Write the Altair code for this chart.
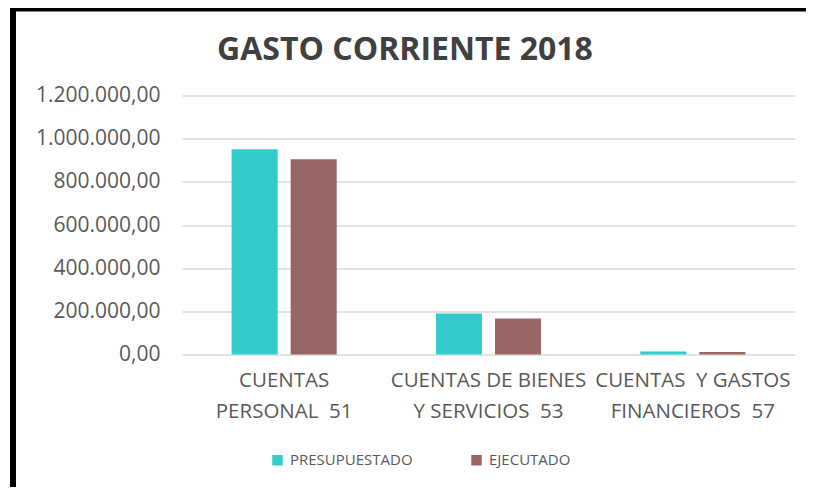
import altair as alt
import pandas as pd

categories = ["CUENTAS|PERSONAL\u00a0 51", "CUENTAS DE BIENES|Y SERVICIOS\u00a0 53", "CUENTAS\u00a0 Y GASTOS|FINANCIEROS\u00a0 57"]
series = ["PRESUPUESTADO", "EJECUTADO"]
presupuestado = [951000, 190000, 14000]
ejecutado = [905000, 167000, 12000]
y_ticks = [0, 200000, 400000, 600000, 800000, 1000000, 1200000]
colors = ["#33CCCC", "#996666"]
title_text = "GASTO CORRIENTE 2018"

rows = []
for c, p, e in zip(categories, presupuestado, ejecutado):
    rows.append({"cat": c, "serie": series[0], "valor": p})
    rows.append({"cat": c, "serie": series[1], "valor": e})
df = pd.DataFrame(rows)

W, H = 613, 259
FONT = "Open Sans"

bars = alt.Chart(df).mark_bar().encode(
    x=alt.X("cat:N", sort=categories, title=None,
            scale=alt.Scale(paddingInner=0, paddingOuter=0),
            axis=alt.Axis(labelExpr="split(datum.label, '|')", labelAngle=0,
                          labelFontSize=20.5, labelColor="#595959", labelFont=FONT,
                          labelLineHeight=31, labelPadding=16, domain=False, ticks=False,
                          labelBaseline="top", labelLimit=300)),
    xOffset=alt.XOffset("serie:N", sort=series,
                        scale=alt.Scale(paddingInner=0.22, paddingOuter=0.84)),
    y=alt.Y("valor:Q", title=None,
            scale=alt.Scale(domain=[0, 1200000], nice=False),
            axis=alt.Axis(values=y_ticks, format=",.2f", labelFontSize=21,
                          labelColor="#595959", labelFont=FONT, labelPadding=22,
                          domain=False, ticks=False, gridColor="#d9d9d9", gridWidth=1.5)),
    color=alt.Color("serie:N", sort=series,
                    scale=alt.Scale(domain=series, range=colors),
                    legend=alt.Legend(title=None, orient="none", legendX=88, legendY=357,
                                      direction="horizontal", symbolType="square",
                                      symbolSize=110, symbolStrokeWidth=0,
                                      labelFontSize=15, labelColor="#595959", labelFont=FONT,
                                      columnPadding=56, labelOffset=5)),
)

frame_df = pd.DataFrame({"t": [title_text]})
title = alt.Chart(frame_df).mark_text(
    font=FONT, fontSize=32, fontWeight="bold", color="#404040",
    align="center", baseline="middle").encode(
    text="t:N", x=alt.value(223), y=alt.value(-46))
top_border = alt.Chart(frame_df).mark_rule(color="black", strokeWidth=4).encode(
    x=alt.value(-172), x2=alt.value(W + 40), y=alt.value(-86))
left_border = alt.Chart(frame_df).mark_rule(color="black", strokeWidth=6).encode(
    x=alt.value(-169), y=alt.value(-90), y2=alt.value(H + 140))

chart = alt.layer(bars, title, top_border, left_border).properties(
    width=W, height=H,
    padding={"left": 174, "top": 87.5, "right": 11, "bottom": 132},
    autosize=alt.AutoSizeParams(type="none"),
).configure(
    locale={"number": {"decimal": ",", "thousands": ".", "grouping": [3], "currency": ["", ""]}},
    view=alt.ViewConfig(stroke=None),
)

chart.save("out.html", embed_options={"renderer": "svg", "actions": False})
